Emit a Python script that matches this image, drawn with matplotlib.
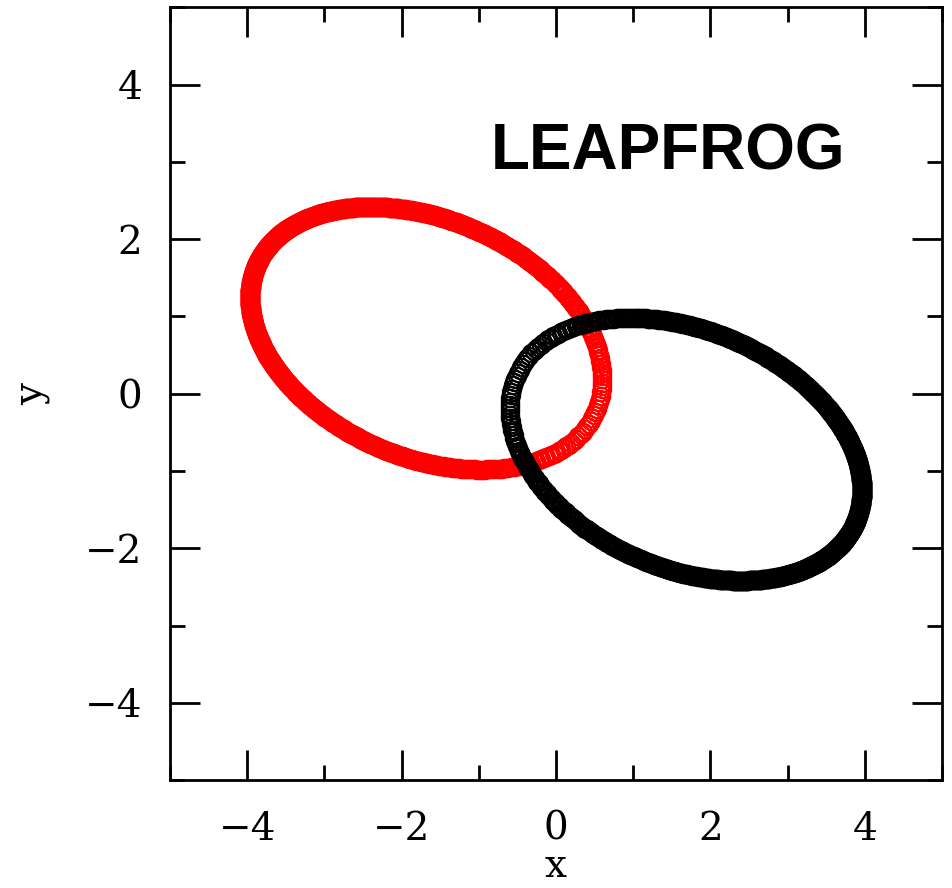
import numpy as np
import matplotlib
matplotlib.use("Agg")
import matplotlib.pyplot as plt
from matplotlib.ticker import MultipleLocator

# Two equal point masses (G = 1), integrated with the leapfrog scheme
masses = [1.0, 1.0]
pos_body1 = [-3.88, 1.66]      # starts at apocentre
vel_body1 = [0.0464, 0.1085]
pos_body2 = [3.88, -1.66]
vel_body2 = [-0.0464, -0.1085]
time_step = 0.05
n_steps = 930

body_colors = ["red", "black"]
x_ticks = [-4, -2, 0, 2, 4]
y_ticks = [-4, -2, 0, 2, 4]
title_text = "LEAPFROG"


def accelerations(p, m):
    d = p[0] - p[1]
    r3 = np.linalg.norm(d) ** 3
    return np.array([-m[1] * d / r3, m[0] * d / r3])


pos = np.array([pos_body1, pos_body2], dtype=float)
vel = np.array([vel_body1, vel_body2], dtype=float)
track = [pos.copy()]
acc = accelerations(pos, masses)
for _ in range(n_steps):
    vel += 0.5 * time_step * acc
    pos += time_step * vel
    acc = accelerations(pos, masses)
    vel += 0.5 * time_step * acc
    track.append(pos.copy())
track = np.array(track)

fig = plt.figure(figsize=(9.53, 8.88), dpi=100)
ax = fig.add_axes([0.1784, 0.1216, 0.81, 0.8700])

for i, c in enumerate(body_colors):
    ax.plot(track[:, i, 0], track[:, i, 1], ls="none", marker="o",
            ms=12.5, mfc="none", mec=c, mew=1.5)

ax.set_xlim(-5, 5)
ax.set_ylim(-5, 5)
ax.set_xticks(x_ticks)
ax.set_yticks(y_ticks)
ax.xaxis.set_minor_locator(MultipleLocator(1))
ax.yaxis.set_minor_locator(MultipleLocator(1))
ax.tick_params(which="both", direction="in", top=True, right=True, width=2)
ax.tick_params(which="major", length=21.5)
ax.tick_params(which="minor", length=11)
ax.tick_params(axis="y", pad=20)
ax.tick_params(axis="x", pad=22)
for s in ax.spines.values():
    s.set_linewidth(2)

tick_font = {"family": "DejaVu Serif", "size": 28}
ax.set_xticklabels([str(v).replace("-", "\u2212") for v in x_ticks], fontdict=tick_font)
ax.set_yticklabels([str(v).replace("-", "\u2212") for v in y_ticks], fontdict=tick_font)
ax.set_xlabel("x", fontdict=tick_font, labelpad=0)
ax.set_ylabel("y", fontdict=tick_font, labelpad=25)

ax.text(0.416, 0.79, title_text, transform=ax.transAxes, family="Liberation Sans",
        weight="bold", fontsize=46, ha="left", va="baseline")

fig.savefig("out.png", dpi=100)
